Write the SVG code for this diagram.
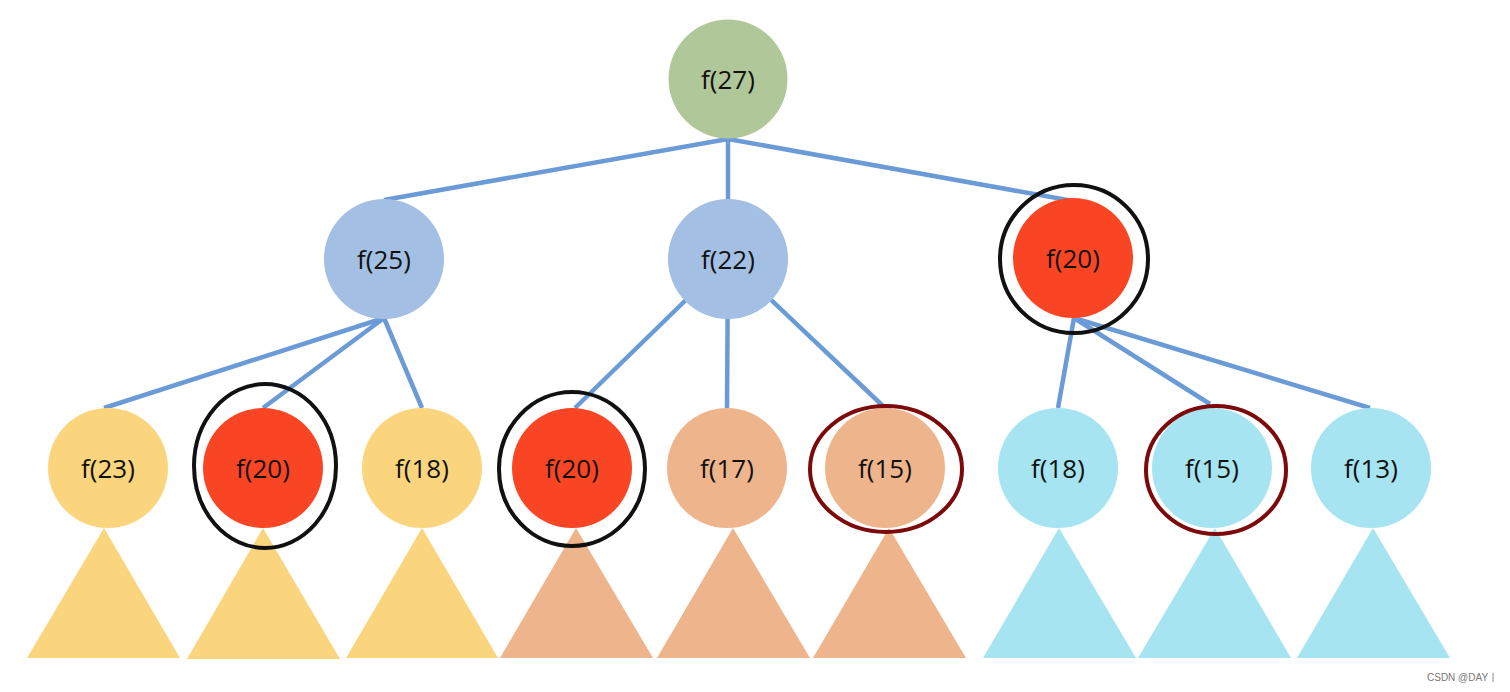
<svg xmlns="http://www.w3.org/2000/svg" width="1510" height="692" viewBox="0 0 1510 692">
<style>
.edge{stroke:#6B9BD6;stroke-width:4.5;fill:none;stroke-linecap:butt}
.lbl{font-family:"Open Sans","Noto Sans",sans-serif;font-size:26px;fill:#111;text-anchor:middle}
.green{fill:#AFC799}
.blue{fill:#A3BFE3}
.red{fill:#FA4524}
.yellow{fill:#FAD57E}
.peach{fill:#EEB48B}
.cyan{fill:#A6E4F1}
.ringB{fill:none;stroke:#111;stroke-width:4}
.ringR{fill:none;stroke:#7D0A0A;stroke-width:4}
.wm{font-family:"Liberation Sans","Noto Sans CJK SC",sans-serif;font-size:10px;fill:#777}
</style>
<rect width="1510" height="692" fill="#fff"/>
<g id="subtrees">
<polygon class="yellow" points="104,528 27,658 180,658"/>
<polygon class="yellow" points="263,528 187,659 340,659"/>
<polygon class="yellow" points="422,528 346,658 498,658"/>
<polygon class="peach" points="576,528 500,658 653,658"/>
<polygon class="peach" points="733,528 657,658 810,658"/>
<polygon class="peach" points="889,528 813,658 966,658"/>
<polygon class="cyan" points="1059,528 983,658 1136,658"/>
<polygon class="cyan" points="1215,528 1138,658 1291,658"/>
<polygon class="cyan" points="1373,528 1297,658 1450,658"/>
</g>
<g id="connectors">
<line class="edge" x1="728" y1="139" x2="384" y2="200"/>
<line class="edge" x1="728" y1="139" x2="728" y2="200"/>
<line class="edge" x1="728" y1="139" x2="1073" y2="201"/>
<line class="edge" x1="384" y1="318" x2="104" y2="408"/>
<line class="edge" x1="384" y1="318" x2="263" y2="408"/>
<line class="edge" x1="384" y1="318" x2="422" y2="408"/>
<line class="edge" x1="728" y1="259" x2="575" y2="408"/>
<line class="edge" x1="728" y1="259" x2="727" y2="408"/>
<line class="edge" x1="728" y1="259" x2="883" y2="406"/>
<line class="edge" x1="1074" y1="318" x2="1058" y2="408"/>
<line class="edge" x1="1074" y1="318" x2="1210" y2="404"/>
<line class="edge" x1="1074" y1="318" x2="1370" y2="408"/>
</g>
<g id="n27"><circle class="green" cx="728" cy="79" r="59.5"/><text class="lbl" x="728" y="89">f(27)</text></g>
<g id="n25"><circle class="blue" cx="384" cy="259" r="60"/><text class="lbl" x="384" y="269">f(25)</text></g>
<g id="n22"><circle class="blue" cx="728" cy="259" r="60"/><text class="lbl" x="728" y="269">f(22)</text></g>
<g id="n20a"><circle class="red" cx="1073" cy="258" r="60"/><ellipse class="ringB" cx="1074" cy="259" rx="74" ry="74"/><text class="lbl" x="1073" y="268">f(20)</text></g>
<g id="n23"><circle class="yellow" cx="108" cy="468" r="60"/><text class="lbl" x="108" y="478">f(23)</text></g>
<g id="n20b"><circle class="red" cx="263" cy="468" r="60"/><ellipse class="ringB" cx="265" cy="466" rx="71" ry="82"/><text class="lbl" x="263" y="478">f(20)</text></g>
<g id="n18a"><circle class="yellow" cx="422" cy="468" r="60"/><text class="lbl" x="422" y="478">f(18)</text></g>
<g id="n20c"><circle class="red" cx="572" cy="468" r="60"/><ellipse class="ringB" cx="572" cy="469" rx="73" ry="77"/><text class="lbl" x="572" y="478">f(20)</text></g>
<g id="n17"><circle class="peach" cx="727" cy="468" r="60"/><text class="lbl" x="727" y="478">f(17)</text></g>
<g id="n15a"><circle class="peach" cx="885" cy="468" r="60"/><ellipse class="ringR" cx="886" cy="469" rx="76" ry="63"/><text class="lbl" x="885" y="478">f(15)</text></g>
<g id="n18b"><circle class="cyan" cx="1058" cy="468" r="60"/><text class="lbl" x="1058" y="478">f(18)</text></g>
<g id="n15b"><circle class="cyan" cx="1212" cy="468" r="60"/><ellipse class="ringR" cx="1216" cy="470" rx="70" ry="64"/><text class="lbl" x="1212" y="478">f(15)</text></g>
<g id="n13"><circle class="cyan" cx="1371" cy="468" r="60"/><text class="lbl" x="1371" y="478">f(13)</text></g>
<text class="wm" x="1427" y="681">CSDN @DAY丨</text>
</svg>
